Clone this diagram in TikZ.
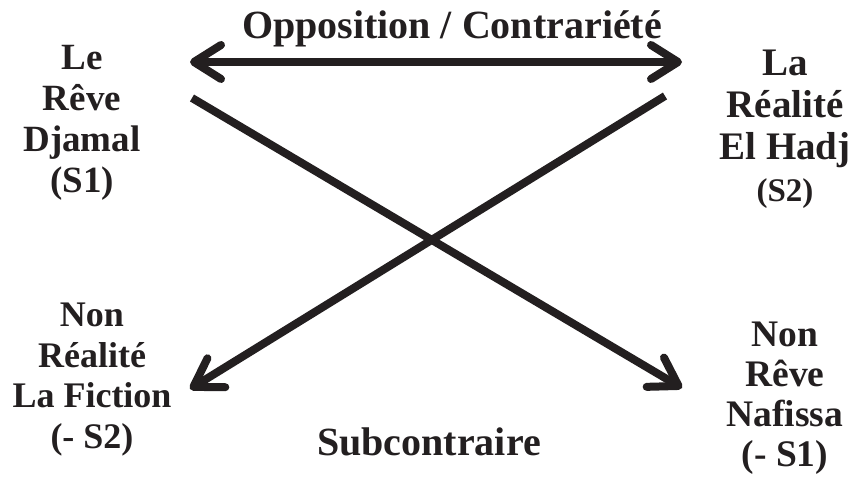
\documentclass[tikz,border=0pt]{standalone}
\usepackage{fontspec}
\setmainfont{Liberation Serif}
\usepackage{xcolor}
\usetikzlibrary{arrows.meta}
\definecolor{ink}{HTML}{231F20}

\begin{document}
\begin{tikzpicture}[x=1pt, y=-1pt,
  term/.style={align=center, inner sep=0pt, anchor=base, text=ink, font=\bfseries},
  label/.style={inner sep=0pt, anchor=base, text=ink, font=\fontsize{40}{44}\selectfont\bfseries},
  arrow/.style={draw=ink, line width=8pt, -{Straight Barb[length=27pt, width=34pt, round]}},
  biarrow/.style={arrow, {Straight Barb[length=27pt, width=34pt, round]}-{Straight Barb[length=27pt, width=34pt, round]}}
]
\useasboundingbox (0,0) rectangle (851,478);

% anchor base sits on the last line
\node[term, font=\fontsize{37}{41}\selectfont\bfseries] (reve) at (82,193) {Le\\Rêve\\Djamal\\(S1)};
\node[term, font=\fontsize{39}{42}\selectfont\bfseries] (realite) at (785,202) {La\\Réalité\\El Hadj\\{\fontsize{33}{40}\selectfont(S2)}};
\node[term, font=\fontsize{36}{40.5}\selectfont\bfseries] (nonrealite) at (92,448) {Non\\Réalité\\La Fiction\\(- S2)};
\node[term, font=\fontsize{37.5}{40}\selectfont\bfseries] (nonreve) at (785,466) {Non\\Rêve\\Nafissa\\(- S1)};

\node[label] (opposition) at (452,39) {Opposition / Contrariété};
\node[label] (subcontraire) at (429,455) {Subcontraire};

\coordinate (oppL) at (190,62);
\coordinate (oppR) at (682,62);
\coordinate (reveEnd) at (192,98);
\coordinate (realiteEnd) at (665,96);
\coordinate (nonreveEnd) at (682,388);
\coordinate (nonrealiteEnd) at (190,389);

\draw[biarrow] (oppL) -- (oppR);
\draw[arrow] (reveEnd) -- (nonreveEnd);
\draw[arrow] (realiteEnd) -- (nonrealiteEnd);
\end{tikzpicture}
\end{document}
